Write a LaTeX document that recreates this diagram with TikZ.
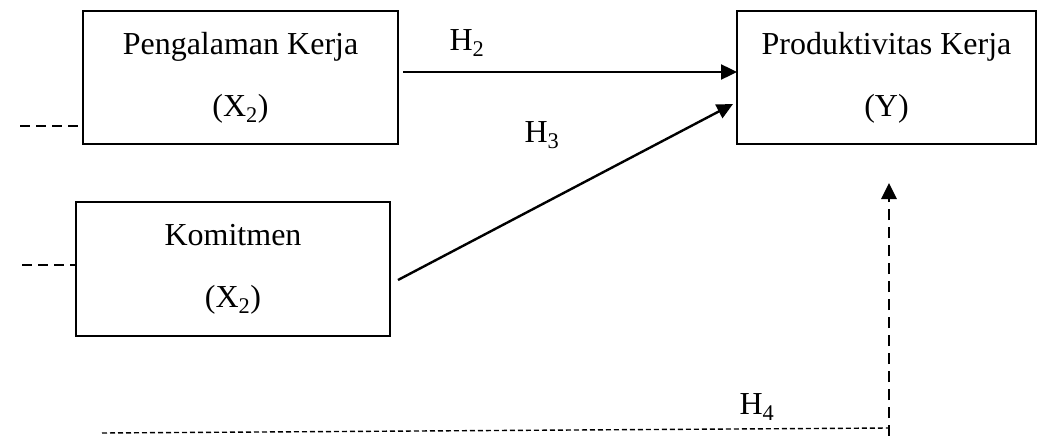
\documentclass[tikz,border=0pt]{standalone}
\usepackage{fontspec}
\setmainfont{Liberation Serif}
\usetikzlibrary{arrows.meta}
\begin{document}
\begin{tikzpicture}[x=1pt,y=-1pt,
  box/.style={draw,line width=1.8pt,inner sep=0pt,outer sep=0pt,align=center,
    font=\fontsize{32}{62}\selectfont},
  lbl/.style={font=\fontsize{32}{38}\selectfont,inner sep=0pt},
  arr/.style={line width=2.4pt,-{Triangle[length=16pt,width=15pt]}},
  sdash/.style={line width=1.8pt,dash pattern=on 10pt off 6pt},
  fdash/.style={line width=1.4pt,dash pattern=on 5pt off 3pt},
  vdash/.style={line width=2.8pt,dash pattern=on 11pt off 7pt,-{Triangle[length=16pt,width=15pt]}}]
\useasboundingbox (0,0) rectangle (1041,436);
\node[box,minimum width=315pt,minimum height=133pt] (b1) at (240.5,77.5) {Pengalaman Kerja\\(X\textsubscript{2})};
\node[box,minimum width=299pt,minimum height=133pt] (b2) at (886.5,77.5) {Produktivitas Kerja\\(Y)};
\node[box,minimum width=314pt,minimum height=134pt] (b3) at (233,269) {Komitmen\\(X\textsubscript{2})};
\coordinate (l1) at (20,126);
\coordinate (l2) at (22,265);
\coordinate (h4s) at (102,433);
\coordinate (corner) at (889,428);
\coordinate (cbot) at (889,436);
\coordinate (tip) at (889,183);
\draw[sdash] (l1) -- ([yshift=-48.5pt]b1.west);
\draw[sdash] (l2) -- ([yshift=4pt]b3.west);
\draw[arr] ([xshift=5pt,yshift=5.5pt]b1.east) -- ([yshift=5.5pt]b2.west);
\draw[arr] ([xshift=8pt,yshift=-11pt]b3.east) -- ([xshift=-4pt,yshift=-26.5pt]b2.west);
\draw[fdash] (h4s) -- (corner);
\draw[vdash] (cbot) -- (tip);
\node[lbl] (h2) at (467,43) {H\textsubscript{2}};
\node[lbl] (h3) at (542,135) {H\textsubscript{3}};
\node[lbl] (h4) at (757,407) {H\textsubscript{4}};
\end{tikzpicture}
\end{document}
